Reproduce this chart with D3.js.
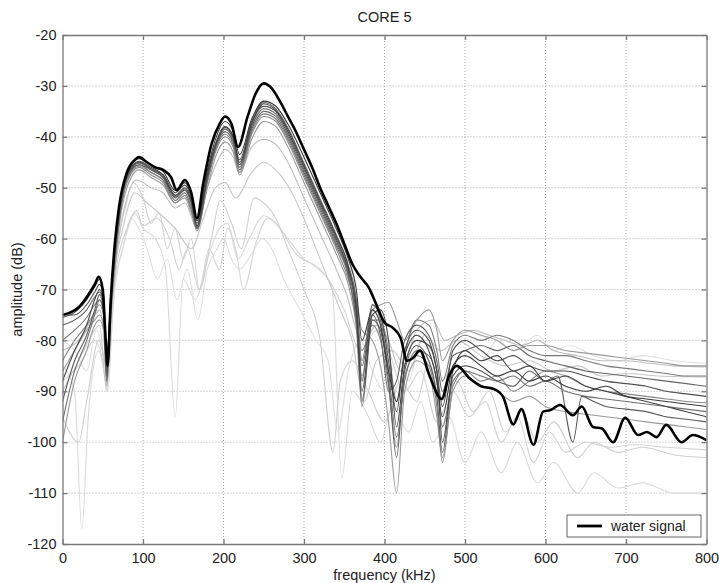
<!DOCTYPE html>
<html>
<head>
<meta charset="utf-8">
<script src="https://cdn.jsdelivr.net/npm/d3@7"></script>
<style>
  html, body { margin: 0; padding: 0; background: #fff; }
  svg { display: block; }
  text { font-family: "Liberation Sans", Arial, sans-serif; }
</style>
</head>
<body>
<div id="chart"></div>
<script>
// ---------- DATA ----------
const chartTitle = "CORE 5";
const xLabel = "frequency (kHz)";
const yLabel = "amplitude (dB)";
const legendLabel = "water signal";
const xTicks = [0, 100, 200, 300, 400, 500, 600, 700, 800];
const yTicks = [-120, -110, -100, -90, -80, -70, -60, -50, -40, -30, -20];

// water signal: [frequency kHz, amplitude dB]
const water = [[0,-75],[10,-74.5],[20,-73.5],[30,-71.5],[40,-69],[45,-67.5],[50,-70],[53,-78],[56,-85],[60,-72],[65,-61],[70,-54],[80,-47],[90,-44.5],[95,-44],[105,-45],[115,-46],[125,-46.5],[135,-48],[142,-50.5],[152,-48.5],[160,-51],[167,-56],[175,-49],[185,-41.5],[195,-37.5],[202,-36],[210,-37.5],[218,-42],[230,-36],[240,-31.5],[250,-29.5],[260,-30.5],[270,-33],[280,-36],[290,-39],[300,-42.5],[310,-46],[320,-50],[330,-53.5],[340,-57],[350,-61],[360,-65],[370,-67.5],[380,-69.5],[390,-73],[400,-76.5],[410,-77.5],[420,-79.5],[428,-84],[435,-83.5],[444,-82],[456,-87],[471,-91.5],[480,-87],[490,-85],[506,-87.5],[520,-89],[535,-89.5],[547,-91],[560,-96.5],[570,-93.5],[585,-100.5],[597,-94],[606,-93.7],[618,-92.7],[634,-94.7],[645,-93],[659,-97],[670,-97.3],[684,-100],[699,-95.2],[715,-98.6],[726,-98],[738,-99],[750,-96.6],[769,-100],[783,-98.6],[800,-99.6]];

// core spectra, dark group
const core01 = [[0,-75.5],[15,-74.5],[30,-72],[40,-69.5],[46,-68],[51,-71],[55,-84],[60,-71],[70,-54.5],[80,-47],[95,-44.3],[110,-45.5],[125,-46.8],[140,-50.5],[152,-49],[160,-51.5],[167,-56.5],[180,-46.5],[190,-40.5],[202,-37],[212,-39],[220,-43.5],[235,-36.5],[250,-33],[265,-34],[280,-37.5],[300,-44],[320,-51],[340,-58],[355,-64],[365,-70],[372,-80],[385,-74],[395,-77],[405,-86],[415,-92],[425,-83],[440,-79],[455,-82],[465,-88],[472,-95],[485,-85],[500,-83],[520,-85],[540,-87],[560,-86],[580,-88],[600,-87],[625,-89],[650,-90],[675,-89],[700,-91],[725,-91.5],[750,-92],[775,-92.5],[800,-93]];
const core02 = [[0,-88],[15,-82],[30,-77],[40,-72],[46,-70],[51,-73],[55,-87],[60,-72],[70,-55],[80,-47.5],[95,-44.8],[110,-46],[125,-47.5],[140,-51.5],[152,-50],[160,-52.5],[167,-57.5],[180,-47.5],[190,-41.5],[202,-38],[212,-40],[220,-45],[235,-37.5],[250,-33.5],[265,-34.8],[280,-38.5],[300,-45.5],[320,-52.5],[340,-59.5],[355,-65.5],[365,-74],[372,-90],[385,-75],[395,-74],[405,-80],[415,-97],[425,-85],[440,-80],[455,-81],[465,-86],[472,-100],[485,-86],[500,-82],[520,-84],[540,-83],[560,-86],[580,-85],[600,-88],[625,-87],[650,-89],[675,-90],[700,-91],[725,-92],[750,-93],[775,-94],[800,-95]];
const core03 = [[0,-75],[15,-75],[30,-73],[40,-70.5],[46,-69],[51,-72],[55,-83],[60,-72],[70,-55],[80,-47.5],[95,-45],[110,-46.3],[125,-47.5],[140,-51],[152,-49.5],[160,-52],[167,-57],[180,-47],[190,-41.5],[202,-38],[212,-40],[220,-44.5],[235,-37],[250,-34],[265,-35],[280,-39],[300,-46],[320,-53],[340,-60],[355,-66],[365,-73],[372,-88],[385,-73],[395,-75],[405,-84],[415,-94],[425,-82],[440,-78],[455,-80],[465,-86],[472,-93],[485,-82],[500,-80],[520,-82],[540,-84],[560,-83],[580,-85],[600,-86],[625,-86],[650,-87],[675,-88],[700,-88.5],[725,-89],[750,-90],[775,-90.5],[800,-91]];
const core04 = [[0,-92],[15,-84],[30,-79],[40,-74],[46,-71],[51,-74],[55,-88],[60,-73],[70,-56],[80,-48],[95,-45.5],[110,-46.5],[125,-48],[140,-52],[152,-50.5],[160,-53],[167,-58],[180,-48],[190,-42],[202,-38.5],[212,-40.5],[220,-45.5],[235,-38],[250,-34.5],[265,-35.5],[280,-39.5],[300,-46.5],[320,-53.5],[340,-60.5],[355,-66.5],[365,-75],[372,-92],[385,-76],[395,-78],[405,-88],[415,-103],[425,-86],[440,-81],[455,-84],[465,-91],[472,-102],[485,-87],[500,-85],[520,-86],[540,-88],[560,-89],[580,-86],[600,-88],[615,-87],[634,-100],[645,-91],[660,-92],[675,-93],[700,-93.5],[725,-94],[750,-95],[775,-95.5],[800,-96]];
const core05 = [[0,-77],[15,-76],[30,-74],[40,-71.5],[46,-70.5],[51,-73],[55,-85],[60,-73],[70,-56],[80,-48],[95,-45],[110,-46.5],[125,-48],[140,-51.5],[152,-50.5],[160,-53],[167,-57.5],[180,-48],[190,-42],[202,-39],[212,-41],[220,-46],[235,-38.5],[250,-35],[265,-36],[280,-40],[300,-47],[320,-54],[340,-61],[355,-67],[365,-76],[372,-85],[385,-75],[395,-79],[405,-90],[415,-88],[425,-80],[440,-77],[455,-79],[465,-84],[472,-90],[485,-83],[500,-82],[520,-81],[540,-82],[560,-81],[580,-83],[600,-84],[625,-85],[650,-86],[675,-86.5],[700,-87],[725,-87.5],[750,-88],[775,-88.5],[800,-89]];
const core06 = [[0,-96],[15,-86],[30,-80],[40,-75],[46,-72],[51,-75],[55,-86],[60,-73],[70,-55.5],[80,-47.8],[95,-45.2],[110,-46.2],[125,-47.8],[140,-51.8],[152,-50.2],[160,-52.8],[167,-57.8],[180,-47.8],[190,-41.8],[202,-38.2],[212,-40.2],[220,-45.5],[235,-37.2],[250,-33.2],[265,-34.5],[280,-38.2],[300,-45.2],[320,-52.2],[340,-59.2],[355,-65.2],[365,-72],[372,-84],[385,-73],[395,-76],[405,-86],[415,-99],[425,-88],[440,-82],[455,-83],[465,-88],[472,-97],[485,-88],[500,-86],[520,-87],[540,-88],[560,-87],[580,-89],[600,-88],[625,-90],[650,-91],[675,-91.5],[700,-92],[725,-92.5],[750,-93],[775,-93.5],[800,-94]];
const core07 = [[0,-80],[15,-78],[30,-75.5],[40,-73],[46,-72],[51,-74],[55,-86],[60,-74],[70,-57],[80,-48.5],[95,-45.5],[110,-47],[125,-48.5],[140,-52.5],[152,-51],[160,-54],[167,-58],[180,-48.5],[190,-42.5],[202,-39.5],[212,-41.5],[220,-46.5],[235,-39],[250,-35.5],[265,-36.5],[280,-40.5],[300,-47.5],[320,-54.5],[340,-61.5],[355,-67.5],[365,-77],[372,-93],[385,-76],[395,-76],[405,-82],[415,-92],[425,-83],[440,-76],[455,-77],[465,-82],[472,-88],[485,-81],[500,-79],[520,-80],[540,-79],[560,-80],[580,-82],[600,-83],[625,-83],[650,-84],[675,-85],[700,-85.5],[725,-86],[750,-86.5],[775,-87],[800,-87]];
const core08 = [[0,-84],[15,-80],[30,-77],[40,-74.5],[46,-73],[51,-75],[55,-85],[60,-74],[70,-57],[80,-49],[95,-46],[110,-47.5],[125,-49],[140,-53],[152,-51.5],[160,-54.5],[167,-58.5],[180,-49],[190,-43],[202,-40],[212,-42],[220,-47],[235,-39.5],[250,-36],[265,-37],[280,-41],[300,-48],[320,-55],[340,-62],[355,-68],[365,-74],[372,-82],[385,-77],[395,-80],[405,-89],[415,-101],[425,-87],[440,-83],[455,-85],[465,-93],[472,-104],[485,-89],[500,-86],[520,-88],[540,-87],[560,-90],[580,-88],[600,-86],[625,-87],[650,-89],[675,-90],[700,-90.5],[725,-91],[750,-91.5],[775,-92],[800,-92.3]];
const core09 = [[0,-86],[15,-82],[30,-78],[40,-76],[46,-75],[51,-77],[55,-84],[60,-75],[70,-58],[80,-50],[95,-46.5],[110,-48],[125,-49.5],[140,-53],[152,-52],[160,-55],[167,-58],[180,-50],[190,-44],[202,-41],[212,-43],[220,-47.5],[235,-40.5],[250,-37],[265,-38],[280,-42],[300,-49],[320,-56],[340,-63],[355,-69],[365,-77],[372,-87],[385,-74],[395,-73],[405,-72.5],[415,-76],[425,-80],[440,-76],[455,-74],[465,-78],[472,-84],[485,-80],[500,-78],[520,-79],[540,-80],[560,-82],[580,-81],[600,-81],[625,-82],[650,-82.5],[675,-83],[700,-83.5],[725,-84],[750,-84.5],[775,-85],[800,-85]];
const core10 = [[0,-100],[15,-88],[30,-82],[40,-77],[46,-76],[51,-78],[55,-89],[60,-75],[70,-57.5],[80,-49],[95,-45.8],[110,-47],[125,-48.5],[140,-52.5],[152,-51],[160,-54],[167,-58],[180,-48.5],[190,-42.5],[202,-39],[212,-41],[220,-46.5],[235,-38],[250,-34],[265,-35],[280,-39],[300,-46],[320,-53],[340,-60],[355,-66],[365,-72],[372,-78],[385,-80],[395,-85],[405,-96],[415,-110],[425,-90],[440,-84],[455,-86],[465,-95],[472,-103],[485,-90],[500,-87],[520,-89],[540,-90],[560,-92],[580,-91],[600,-93],[625,-94],[650,-94.5],[675,-95],[700,-95.5],[725,-96],[750,-96.5],[775,-97],[800,-97.5]];

// core spectra, faint group
const core11 = [[0,-82],[20,-80],[40,-75],[46,-74],[51,-78],[55,-88],[60,-76],[70,-60],[80,-52],[92,-48.5],[110,-50],[125,-51],[140,-54],[152,-53],[167,-58],[180,-50],[195,-44],[202,-42.5],[212,-44],[220,-47],[235,-42],[250,-40.5],[265,-41.5],[280,-45],[300,-52],[320,-59],[340,-66],[355,-72],[365,-78],[375,-80],[390,-77],[405,-80],[420,-86],[440,-78],[460,-76],[475,-80],[490,-79],[510,-78],[530,-79],[550,-80],[570,-81],[590,-80],[610,-82],[640,-83],[670,-84],[700,-84],[730,-84.5],[760,-85],[800,-85.2]];
const core12 = [[0,-90],[20,-84],[40,-78],[46,-77],[55,-90],[62,-70],[75,-58],[90,-51],[105,-53],[120,-55],[140,-58],[160,-62],[175,-56],[190,-50],[202,-49],[215,-52],[235,-47],[250,-45],[265,-46.5],[285,-51],[305,-58],[325,-66],[345,-74],[360,-80],[375,-92],[390,-84],[410,-82],[430,-86],[450,-79],[470,-82],[490,-80],[520,-83],[550,-85],[580,-84],[610,-86],[640,-85],[670,-87],[700,-86.5],[740,-87],[800,-87.2]];
const core13 = [[0,-95],[20,-100],[30,-92],[45,-80],[55,-85],[65,-68],[80,-58],[92,-54.5],[100,-57.5],[117,-56],[133,-60],[145,-66],[155,-62],[170,-70],[185,-60],[196,-52.5],[210,-57],[222,-62],[238,-52],[250,-53],[265,-56],[280,-62],[300,-70],[320,-80],[336,-102],[345,-88],[360,-84],[380,-90],[400,-96],[420,-88],[440,-92],[455,-84],[470,-92],[490,-88],[510,-94],[530,-90],[550,-98],[570,-94],[590,-100],[610,-96],[640,-103],[660,-100],[690,-102],[720,-101],[760,-102.5],[800,-103]];
const core14 = [[0,-85],[15,-90],[24,-117],[32,-95],[45,-82],[55,-88],[65,-70],[78,-60],[90,-55],[100,-58],[115,-60],[128,-66],[140,-95],[150,-68],[165,-72],[180,-64],[195,-58],[205,-57],[218,-64],[232,-60],[250,-55.5],[262,-56.5],[280,-60],[300,-64],[320,-66],[335,-70],[347,-107],[360,-90],[380,-95],[395,-100],[410,-93],[430,-98],[445,-92],[460,-100],[480,-95],[500,-104],[520,-98],[545,-106],[565,-100],[590,-108],[610,-104],[640,-110],[660,-106],[690,-109],[720,-108],[760,-110],[800,-110]];
const core15 = [[0,-88],[20,-85],[40,-80],[50,-84],[56,-90],[65,-66],[78,-54],[88,-49],[100,-52],[110,-57],[120,-55],[130,-62],[140,-58],[150,-64],[160,-60],[170,-70],[182,-62],[195,-66],[205,-58],[215,-62],[225,-70],[240,-61],[255,-56],[270,-58],[290,-63],[310,-65],[330,-68],[350,-74],[370,-82],[390,-78],[405,-82],[425,-90],[445,-86],[465,-96],[485,-90],[505,-95],[525,-92],[545,-100],[565,-95],[585,-104],[605,-98],[625,-102],[650,-100],[680,-101],[710,-100.5],[750,-101],[800,-101.5]];
const core16 = [[0,-80],[15,-82],[30,-86],[42,-78],[50,-82],[55,-86],[62,-72],[75,-62],[85,-56],[95,-58],[105,-62],[118,-68],[130,-64],[142,-72],[155,-66],[168,-76],[180,-66],[192,-62],[200,-60],[210,-64],[220,-66],[235,-63],[248,-60],[260,-62],[275,-68],[295,-74],[315,-80],[330,-84],[342,-98],[355,-86],[370,-80],[385,-86],[400,-90],[415,-84],[430,-88],[445,-80],[458,-82],[470,-88],[485,-85],[500,-82],[520,-84],[540,-80],[560,-82],[590,-79],[610,-82],[630,-81],[660,-83],[690,-84],[720,-83],[760,-84],[800,-84.5]];

const faintSeries = [core16, core14, core15, core13, core12, core11];
const faintGrays = ["#e0e0e0", "#dadada", "#d4d4d4", "#d0d0d0", "#c8c8c8", "#bdbdbd"];
const darkSeries = [core10, core09, core08, core07, core06, core05, core04, core03, core02, core01];
const darkGrays = ["#9a9a9a", "#999999", "#888888", "#7a7a7a", "#707070", "#666666", "#5a5a5a", "#505050", "#454545", "#3a3a3a"];

// ---------- CHART ----------
const W = 719, H = 583;
const margin = { left: 62.5, right: 12.5, top: 35, bottom: 39 };
const iw = W - margin.left - margin.right;
const ih = H - margin.top - margin.bottom;

const svg = d3.select("#chart").append("svg").attr("width", W).attr("height", H);
const g = svg.append("g").attr("transform", `translate(${margin.left},${margin.top})`);

const x = d3.scaleLinear().domain([0, 800]).range([0, iw]);
const y = d3.scaleLinear().domain([-120, -20]).range([ih, 0]);

g.append("rect").attr("width", iw).attr("height", ih).attr("fill", "#fff");

// grid
g.append("g").selectAll("line").data(xTicks.slice(1, -1)).join("line")
  .attr("x1", d => x(d)).attr("x2", d => x(d)).attr("y1", 0).attr("y2", ih)
  .attr("stroke", "#aaaaaa").attr("stroke-width", 1).attr("stroke-dasharray", "1,2");
g.append("g").selectAll("line").data(yTicks.slice(1, -1)).join("line")
  .attr("x1", 0).attr("x2", iw).attr("y1", d => y(d)).attr("y2", d => y(d))
  .attr("stroke", "#aaaaaa").attr("stroke-width", 1).attr("stroke-dasharray", "1,2");

svg.append("clipPath").attr("id", "clip").append("rect").attr("width", iw).attr("height", ih);
const plot = g.append("g").attr("clip-path", "url(#clip)");

const line = d3.line().x(d => x(d[0])).y(d => y(d[1])).curve(d3.curveMonotoneX);

plot.selectAll("path.faint").data(faintSeries).join("path").attr("class", "faint")
  .attr("d", line).attr("fill", "none")
  .attr("stroke", (d, i) => faintGrays[i]).attr("stroke-width", 1.1).attr("stroke-linejoin", "round");
plot.selectAll("path.dark").data(darkSeries).join("path").attr("class", "dark")
  .attr("d", line).attr("fill", "none")
  .attr("stroke", (d, i) => darkGrays[i]).attr("stroke-width", 1.1).attr("stroke-linejoin", "round");
plot.append("path").datum(water).attr("d", line).attr("fill", "none")
  .attr("stroke", "#000").attr("stroke-width", 2.6).attr("stroke-linejoin", "round");

// axes (MATLAB-like, ticks inside on all sides)
const tickLen = 5;
const axColor = "#7a7a7a";
const fmt = d => String(d); // plain hyphen-minus as in the reference
const xb = g.append("g").attr("transform", `translate(0,${ih})`)
  .call(d3.axisBottom(x).tickValues(xTicks).tickFormat(fmt).tickSizeInner(-tickLen).tickSizeOuter(0).tickPadding(9));
const xt = g.append("g").call(d3.axisTop(x).tickValues(xTicks).tickSizeInner(-tickLen).tickSizeOuter(0).tickFormat(""));
const yl = g.append("g").call(d3.axisLeft(y).tickValues(yTicks).tickFormat(fmt).tickSizeInner(-tickLen).tickSizeOuter(0).tickPadding(6));
const yr = g.append("g").attr("transform", `translate(${iw},0)`)
  .call(d3.axisRight(y).tickValues(yTicks).tickSizeInner(-tickLen).tickSizeOuter(0).tickFormat(""));
[xb, xt, yl, yr].forEach(a => {
  a.selectAll("path").attr("stroke", axColor).attr("stroke-width", 1.3);
  a.selectAll("line").attr("stroke", axColor).attr("stroke-width", 1.3);
  a.selectAll("text").attr("fill", "#222").style("font-size", "14.5px")
    .style("font-family", "'Liberation Sans', Arial, sans-serif");
});

// labels
svg.append("text").attr("x", margin.left + iw / 2).attr("y", 22).attr("text-anchor", "middle")
  .attr("fill", "#222").style("font-size", "14.5px").text(chartTitle);
svg.append("text").attr("x", margin.left + iw / 2).attr("y", 580).attr("text-anchor", "middle")
  .attr("fill", "#222").style("font-size", "14.5px").text(xLabel);
svg.append("text").attr("transform", `translate(22,${margin.top + ih / 2}) rotate(-90)`)
  .attr("text-anchor", "middle").attr("fill", "#222").style("font-size", "14.5px").text(yLabel);

// legend
const lg = svg.append("g").attr("transform", "translate(567,515)");
lg.append("rect").attr("width", 134).attr("height", 22).attr("fill", "#fff")
  .attr("stroke", "#666").attr("stroke-width", 1);
lg.append("line").attr("x1", 10).attr("x2", 35).attr("y1", 11).attr("y2", 11)
  .attr("stroke", "#000").attr("stroke-width", 2.8);
lg.append("text").attr("x", 44).attr("y", 16).attr("fill", "#222")
  .style("font-size", "14px").text(legendLabel);
</script>
</body>
</html>
